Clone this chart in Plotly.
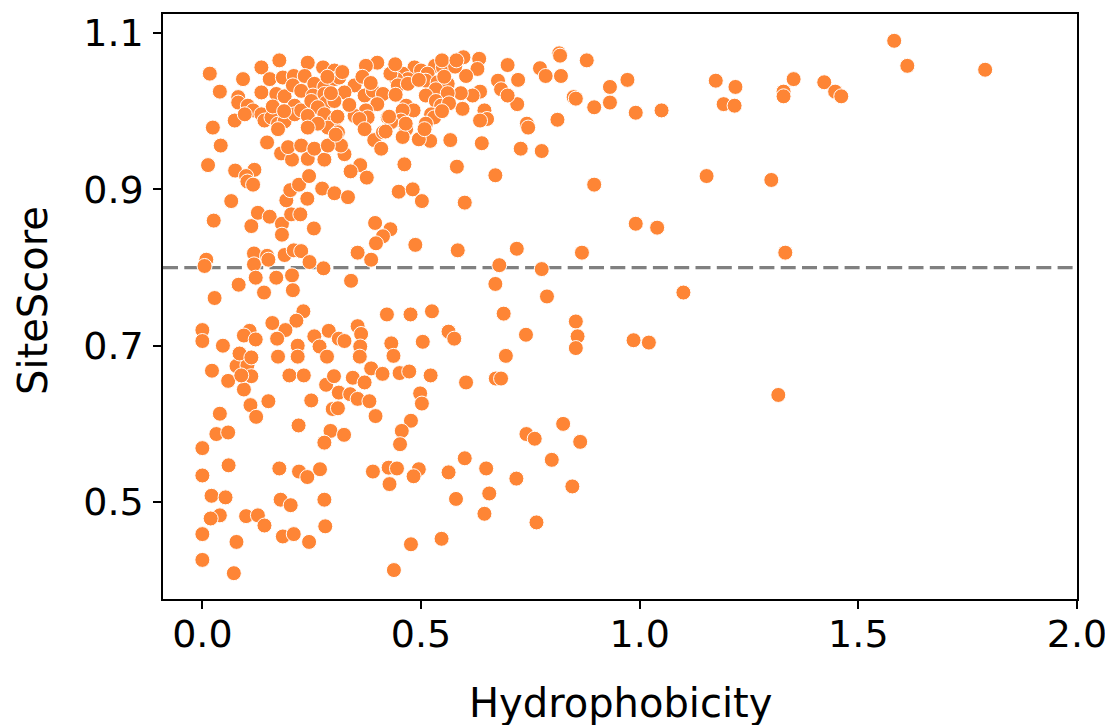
import plotly.graph_objects as go

# Hydrophobicity (x) and SiteScore (y)
pts = [
(0.022,0.668),(0.059,0.655),(0.095,0.644),(0.078,0.674),(0.103,0.675),(0.112,0.661),(0.089,0.662),
(0.110,0.624),(0.123,0.609),(0.151,0.629),(0.040,0.613),(0.032,0.587),(0.059,0.589),(0.000,0.569),
(0.000,0.534),(0.060,0.547),(0.021,0.508),(0.053,0.506),(0.040,0.483),(0.019,0.479),(0.000,0.459),
(0.078,0.449),(0.000,0.426),(0.072,0.409),(0.199,0.662),(0.232,0.662),(0.249,0.630),(0.220,0.598),
(0.283,0.650),(0.301,0.661),(0.312,0.640),(0.344,0.659),(0.371,0.653),(0.338,0.638),(0.355,0.632),
(0.382,0.629),(0.298,0.619),(0.310,0.620),(0.396,0.610),(0.386,0.671),(0.412,0.664),(0.451,0.665),
(0.473,0.667),(0.498,0.639),(0.502,0.626),(0.477,0.604),(0.456,0.591),(0.452,0.574),(0.293,0.591),
(0.324,0.586),(0.279,0.576),(0.176,0.543),(0.221,0.539),(0.240,0.532),(0.269,0.542),(0.179,0.503),
(0.202,0.496),(0.279,0.503),(0.281,0.469),(0.100,0.482),(0.127,0.483),(0.142,0.470),(0.184,0.456),
(0.209,0.459),(0.244,0.449),(0.390,0.539),(0.426,0.544),(0.445,0.543),(0.428,0.523),(0.495,0.542),
(0.483,0.533),(0.477,0.446),(0.438,0.413),(0.522,0.662),
(0.603,0.653),(0.671,0.658),(0.683,0.658),(0.825,0.600),(0.741,0.587),(0.760,0.581),(0.864,0.577),
(0.799,0.554),(0.600,0.556),(0.563,0.538),(0.649,0.543),(0.718,0.530),(0.846,0.520),(0.580,0.504),
(0.656,0.511),(0.645,0.485),(0.764,0.474),(0.547,0.453),
(0.013,0.931),(0.075,0.924),(0.119,0.925),(0.100,0.917),(0.103,0.910),(0.116,0.906),(0.066,0.885),
(0.026,0.860),(0.112,0.853),(0.127,0.870),(0.154,0.865),(0.182,0.856),(0.182,0.842),(0.203,0.868),
(0.224,0.868),(0.192,0.886),(0.201,0.899),(0.221,0.906),(0.244,0.917),(0.240,0.888),(0.255,0.850),
(0.180,0.946),(0.205,0.938),(0.241,0.939),(0.279,0.938),(0.325,0.945),(0.361,0.931),(0.339,0.923),
(0.376,0.915),(0.274,0.901),(0.302,0.895),(0.333,0.890),(0.462,0.932),(0.449,0.897),(0.481,0.900),
(0.502,0.885),(0.395,0.857),(0.430,0.849),(0.413,0.840),(0.397,0.831),(0.487,0.829),(0.355,0.819),
(0.386,0.810),(0.009,0.810),(0.005,0.802),(0.118,0.818),(0.118,0.804),(0.148,0.815),(0.151,0.810),
(0.188,0.816),(0.209,0.822),(0.226,0.821),(0.245,0.807),(0.277,0.799),(0.122,0.787),(0.169,0.787),
(0.205,0.790),(0.207,0.771),(0.141,0.768),(0.083,0.778),(0.028,0.761),(0.340,0.783),(0.231,0.744),
(0.215,0.732),(0.190,0.720),(0.160,0.729),(0.171,0.709),(0.000,0.720),(0.000,0.706),(0.047,0.700),
(0.108,0.719),(0.095,0.713),(0.122,0.708),(0.085,0.690),(0.112,0.685),(0.256,0.712),(0.289,0.719),
(0.312,0.709),(0.325,0.706),(0.355,0.725),(0.363,0.715),(0.361,0.699),(0.218,0.700),(0.268,0.699),
(0.173,0.686),(0.218,0.686),(0.285,0.686),(0.422,0.740),(0.476,0.740),(0.525,0.744),(0.432,0.703),
(0.437,0.687),(0.504,0.705),(0.360,0.686),
(0.582,0.929),(0.670,0.918),(0.896,0.906),(0.600,0.883),(0.991,0.856),(1.040,0.851),(0.584,0.822),
(0.719,0.824),(0.868,0.819),(0.679,0.803),(0.776,0.798),(0.670,0.779),(0.788,0.763),(1.100,0.768),
(0.689,0.741),(0.854,0.731),(0.858,0.712),(0.854,0.697),(0.563,0.718),(0.576,0.709),(0.740,0.714),
(0.986,0.707),(1.021,0.704),(0.694,0.687),
(1.582,1.090),(1.612,1.058),(1.790,1.053),(1.352,1.041),(1.422,1.037),(1.447,1.025),(1.461,1.019),
(1.329,1.025),(1.329,1.019),(1.174,1.039),(1.219,1.031),(1.192,1.009),(1.217,1.007),(1.153,0.917),
(1.301,0.912),(1.333,0.819),(1.317,0.637),
(0.816,1.074),(0.818,1.071),(0.879,1.065),(0.772,1.055),(0.785,1.045),(0.820,1.045),(0.722,1.040),
(0.972,1.040),(0.932,1.031),(0.932,1.011),(0.896,1.005),(0.849,1.018),(0.854,1.016),(0.991,0.998),
(1.050,1.001),(0.812,0.989),(0.742,0.984),(0.745,0.979),(0.720,1.009),(0.728,0.952),(0.776,0.949),
(0.597,1.069),(0.633,1.067),(0.698,1.059),(0.629,1.054),(0.603,1.045),(0.676,1.039),(0.683,1.028),
(0.698,1.020),(0.635,1.025),(0.618,1.020),(0.591,1.023),(0.595,1.003),(0.645,1.001),(0.651,0.990),
(0.635,0.988),(0.639,0.959),(0.567,0.963),(0.521,0.962),(0.495,0.964),(0.532,1.058),(0.550,1.056),
(0.578,1.057),(0.548,1.065),(0.485,1.056),(0.500,1.052),(0.515,1.048),(0.458,1.048),(0.470,1.041),
(0.443,1.041),(0.430,1.048),(0.441,1.060),(0.400,1.062),(0.374,1.058),(0.447,1.033),(0.470,1.035),
(0.511,1.039),(0.538,1.037),(0.561,1.035),(0.534,1.028),(0.561,1.023),(0.511,1.020),(0.534,1.013),
(0.546,1.007),(0.523,0.996),(0.530,0.992),(0.511,0.984),(0.508,0.977),(0.466,1.007),(0.483,1.001),
(0.458,1.001),(0.454,0.988),(0.466,0.977),(0.458,0.967),(0.348,1.033),(0.371,1.020),(0.390,1.026),
(0.413,1.022),(0.400,1.009),(0.374,1.001),(0.348,0.994),(0.325,1.024),(0.378,0.992),(0.359,0.990),
(0.424,0.992),(0.432,0.986),(0.371,0.977),(0.393,0.963),(0.413,0.973),(0.409,0.952),(0.317,0.956),
(0.017,1.048),(0.040,1.025),(0.082,1.018),(0.093,1.041),(0.135,1.056),(0.176,1.065),(0.154,1.041),
(0.184,1.043),(0.209,1.045),(0.241,1.062),(0.276,1.056),(0.302,1.052),(0.234,1.045),(0.256,1.035),
(0.279,1.031),(0.302,1.041),(0.313,1.043),(0.135,1.024),(0.169,1.022),(0.188,1.019),(0.207,1.033),
(0.226,1.026),(0.253,1.020),(0.279,1.022),(0.283,1.011),(0.302,1.013),(0.082,1.011),(0.104,1.007),
(0.116,1.001),(0.135,0.996),(0.074,0.988),(0.097,0.996),(0.142,0.988),(0.158,0.992),(0.173,0.984),
(0.188,0.987),(0.211,1.007),(0.211,0.996),(0.226,1.001),(0.249,1.013),(0.264,1.005),(0.241,0.994),
(0.279,0.996),(0.302,0.988),(0.287,0.979),(0.310,0.973),(0.264,0.984),(0.024,0.979),(0.042,0.956),
(0.148,0.960),(0.173,0.977),(0.196,0.954),(0.226,0.956),(0.256,0.952),(0.287,0.956),(0.241,0.979),
(0.320,1.050),(0.286,1.044),(0.366,1.044),(0.385,1.036),(0.495,1.040),(0.553,1.044),(0.294,1.023),
(0.442,1.021),(0.564,1.010),(0.161,1.006),(0.187,1.000),(0.309,0.993),(0.336,1.008),(0.548,1.000),
(0.419,0.974),(0.465,0.984),(0.427,0.993),(0.305,0.970),(0.581,1.065),
]
hydrophobicity = [p[0] for p in pts]
site_score = [p[1] for p in pts]

threshold = 0.8
x_ticks = [0.0, 0.5, 1.0, 1.5, 2.0]
x_tick_labels = ["0.0", "0.5", "1.0", "1.5", "2.0"]
y_ticks = [0.5, 0.7, 0.9, 1.1]
y_tick_labels = ["0.5", "0.7", "0.9", "1.1"]
x_title = "Hydrophobicity"
y_title = "SiteScore"

fig = go.Figure()
fig.add_trace(go.Scatter(
    x=hydrophobicity, y=site_score, mode="markers",
    marker=dict(size=15, color="#FE8535", line=dict(color="white", width=1)),
    showlegend=False, hoverinfo="x+y",
))
fig.add_shape(type="line", xref="paper", x0=0, x1=1, yref="y", y0=threshold, y1=threshold,
              line=dict(color="#808080", width=3.3, dash="15px,6.3px"), layer="below")

tick_font = dict(family="DejaVu Sans", size=38, color="black")
title_font = dict(family="DejaVu Sans", size=40, color="black")
# the page body adds an 8px offset, so the figure is 8px smaller and margins shifted
fig.update_layout(
    template="none",
    width=1105, height=717,
    margin=dict(l=155, r=36, t=6, b=126, autoexpand=False),
    paper_bgcolor="white", plot_bgcolor="white",
    font=tick_font,
    annotations=[
        dict(text=x_title, xref="paper", yref="paper", x=0.5, y=-0.178, xanchor="center", yanchor="middle",
             showarrow=False, font=title_font),
        dict(text=y_title, xref="paper", yref="paper", x=-0.143, y=0.51, xanchor="center", yanchor="middle",
             textangle=-90, showarrow=False, font=title_font),
    ],
)
fig.update_xaxes(
    range=[-0.09, 2.0], tickvals=x_ticks, ticktext=x_tick_labels, automargin=False,
    showgrid=False, zeroline=False, showline=True, linecolor="black", linewidth=1.5, mirror=True,
    ticks="outside", ticklen=8, tickwidth=1.5, tickcolor="black", tickfont=tick_font,
    ticklabelstandoff=-7,
)
fig.update_yaxes(
    range=[0.376, 1.1243], tickvals=y_ticks, ticktext=y_tick_labels, automargin=False,
    showgrid=False, zeroline=False, showline=True, linecolor="black", linewidth=1.5, mirror=True,
    ticks="outside", ticklen=8, tickwidth=1.5, tickcolor="black", tickfont=tick_font,
    ticklabelstandoff=2,
)
fig.write_html("out.html")
